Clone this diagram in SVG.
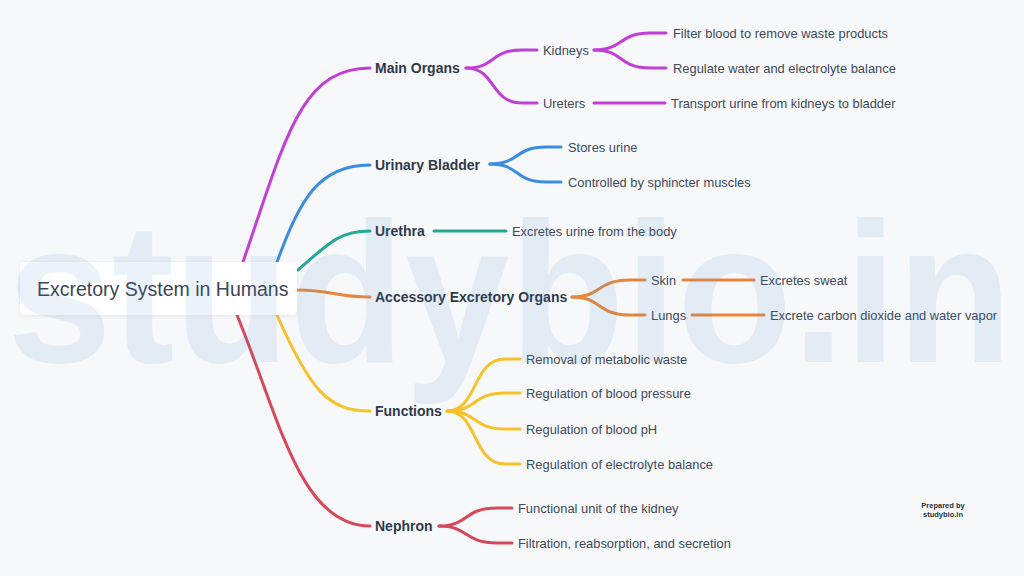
<svg xmlns="http://www.w3.org/2000/svg" width="1024" height="576" viewBox="0 0 1024 576">
<defs>
<filter id="sh" x="-10%" y="-30%" width="120%" height="160%">
<feDropShadow dx="0" dy="1" stdDeviation="2" flood-color="#8090a8" flood-opacity="0.18"/>
</filter>
<style>
.bg{fill:#f7f8fa}
.c{fill:none;stroke-width:3;stroke-linecap:round}
.pu{stroke:#c23fd6}.bl{stroke:#3a8ddf}.te{stroke:#26a896}.or{stroke:#e8873c}.ye{stroke:#f6c228}.re{stroke:#d6495b}
.root{font-family:"Liberation Sans",Arial,sans-serif;font-size:19.5px;fill:#3a4656}
.l1{font-family:"Liberation Sans",Arial,sans-serif;font-size:14px;font-weight:bold;fill:#2e3a4a}
.lf{font-family:"Liberation Sans",Arial,sans-serif;font-size:12.9px;fill:#3e4a5a}
.wm{font-family:"Liberation Sans",Arial,sans-serif;font-size:200px;font-weight:bold;fill:#4a88d2;fill-opacity:0.11}
.pb{font-family:"Liberation Sans",Arial,sans-serif;font-size:7.5px;font-weight:bold;fill:#2a2f36;text-anchor:middle}
</style>
</defs>
<rect class="bg" x="0" y="0" width="1024" height="576"/>

<g id="connectors">
<path class="c pu" d="M243,262 C285,140 300,68 370,68"/>
<path class="c bl" d="M277,262 C300,200 318,165 370,165"/>
<path class="c te" d="M298,270 C330,242 340,231 370,231"/>
<path class="c or" d="M297,290 C332,290 335,297 370,297"/>
<path class="c ye" d="M277,315 C310,390 328,411 370,411"/>
<path class="c re" d="M237,315 C280,420 300,526 370,526"/>
<path class="c pu" d="M466,68 C496,68 490,50 522,50 L537,50"/>
<path class="c pu" d="M466,68 C496,68 490,103 522,103 L537,103"/>
<path class="c pu" d="M594,50 C624,50 618,33 650,33 L666,33"/>
<path class="c pu" d="M594,50 C624,50 618,68 650,68 L666,68"/>
<path class="c pu" d="M594,103 L665,103"/>
<path class="c bl" d="M490,164 C520,164 514,147 546,147 L561,147"/>
<path class="c bl" d="M490,164 C520,164 514,182 546,182 L561,182"/>
<path class="c te" d="M434,231 L506,231"/>
<path class="c or" d="M572,297 C602,297 596,280 630,280 L645,280"/>
<path class="c or" d="M572,297 C602,297 596,315 630,315 L645,315"/>
<path class="c or" d="M683,280 L754,280"/>
<path class="c or" d="M692,315 L764,315"/>
<path class="c ye" d="M447,411 C478,411 472,359 505,359 L520,359"/>
<path class="c ye" d="M447,411 C478,411 472,393 505,393 L520,393"/>
<path class="c ye" d="M447,411 C478,411 472,429 505,429 L520,429"/>
<path class="c ye" d="M447,411 C478,411 472,464 505,464 L520,464"/>
<path class="c re" d="M439,526 C469,526 463,508 497,508 L512,508"/>
<path class="c re" d="M439,526 C469,526 463,543 497,543 L512,543"/>
</g>

<g id="root">
<rect x="20" y="262" width="277" height="53" rx="5" fill="#ffffff" filter="url(#sh)"/>
<text class="root" x="37" y="295.5">Excretory System in Humans</text>
</g>

<g id="main-organs"><text class="l1" x="375" y="73">Main Organs</text></g>
<g id="kidneys"><text class="lf" x="543" y="55">Kidneys</text></g>
<g id="filter"><text class="lf" x="673" y="37.5">Filter blood to remove waste products</text></g>
<g id="regulate"><text class="lf" x="673" y="72.5">Regulate water and electrolyte balance</text></g>
<g id="ureters"><text class="lf" x="543" y="107.5">Ureters</text></g>
<g id="transport"><text class="lf" x="671" y="107.5">Transport urine from kidneys to bladder</text></g>

<g id="urinary-bladder"><text class="l1" x="375" y="169.5">Urinary Bladder</text></g>
<g id="stores"><text class="lf" x="568" y="151.5">Stores urine</text></g>
<g id="controlled"><text class="lf" x="568" y="186.5">Controlled by sphincter muscles</text></g>

<g id="urethra"><text class="l1" x="375" y="236">Urethra</text></g>
<g id="excretes-urine"><text class="lf" x="512" y="235.5">Excretes urine from the body</text></g>

<g id="accessory"><text class="l1" x="375" y="302">Accessory Excretory Organs</text></g>
<g id="skin"><text class="lf" x="651" y="284.5">Skin</text></g>
<g id="sweat"><text class="lf" x="760" y="284.5">Excretes sweat</text></g>
<g id="lungs"><text class="lf" x="651" y="319.5">Lungs</text></g>
<g id="co2"><text class="lf" x="770" y="319.5">Excrete carbon dioxide and water vapor</text></g>

<g id="functions"><text class="l1" x="375" y="416">Functions</text></g>
<g id="f1"><text class="lf" x="526" y="363.5">Removal of metabolic waste</text></g>
<g id="f2"><text class="lf" x="526" y="397.5">Regulation of blood pressure</text></g>
<g id="f3"><text class="lf" x="526" y="433.5">Regulation of blood pH</text></g>
<g id="f4"><text class="lf" x="526" y="468.5">Regulation of electrolyte balance</text></g>

<g id="nephron"><text class="l1" x="375" y="531">Nephron</text></g>
<g id="n1"><text class="lf" x="518" y="512.5">Functional unit of the kidney</text></g>
<g id="n2"><text class="lf" x="518" y="547.5">Filtration, reabsorption, and secretion</text></g>

<g id="prepared">
<text class="pb" x="943" y="507.5">Prepared by</text>
<text class="pb" x="943" y="517">studybio.in</text>
</g>

<g id="watermark">
<text class="wm" x="7" y="362" textLength="1005" lengthAdjust="spacingAndGlyphs">studybio.in</text>
</g>
</svg>
